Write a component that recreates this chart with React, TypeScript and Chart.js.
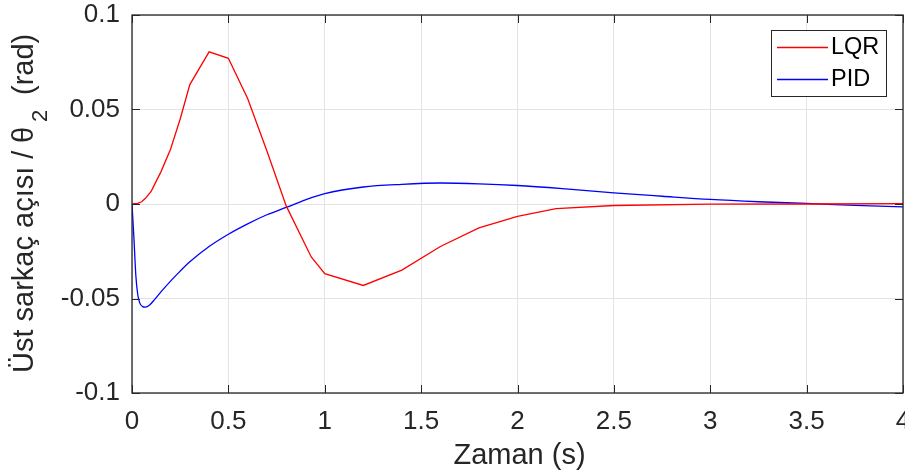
import React, { useEffect, useRef } from "react";
import { Chart, registerables } from "chart.js";

Chart.register(...registerables);

const lqrTime = [0, 0.03, 0.05, 0.07, 0.1, 0.15, 0.2, 0.25, 0.3, 0.4, 0.5, 0.6, 0.7, 0.8, 0.93, 1.0, 1.2, 1.4, 1.6, 1.8, 2.0, 2.2, 2.5, 3.0, 3.5, 4.0];
const lqrValues = [0, 0.0003, 0.0012, 0.003, 0.0068, 0.017, 0.029, 0.045, 0.0632, 0.0805, 0.0771, 0.0558, 0.028, -0.001, -0.028, -0.0369, -0.0431, -0.035, -0.0225, -0.0126, -0.0065, -0.0025, -0.0008, -0.0001, 0, 0.0002];

const pidTime = [0, 0.01, 0.02, 0.03, 0.04, 0.055, 0.07, 0.09, 0.12, 0.15, 0.2, 0.25, 0.3, 0.4, 0.5, 0.6, 0.7, 0.8, 0.9, 1.0, 1.2, 1.4, 1.6, 1.8, 2.0, 2.25, 2.5, 2.75, 3.0, 3.25, 3.5, 3.75, 4.0];
const pidValues = [0, -0.018, -0.038, -0.048, -0.0523, -0.0543, -0.0546, -0.0536, -0.0502, -0.0465, -0.0408, -0.0355, -0.0306, -0.0225, -0.016, -0.0105, -0.0057, -0.0018, 0.0022, 0.0055, 0.009, 0.0104, 0.0111, 0.0107, 0.0098, 0.008, 0.0059, 0.0041, 0.0024, 0.0012, 0.0003, -0.0007, -0.0015];

const seriesNames = ["LQR", "PID"];
const seriesColors = ["#ff0000", "#0000ff"];
const xTitle = "Zaman (s)";
const yTitleParts = ["Üst sarkaç açısı /", "θ", "2", "(rad)"];

const FONT = "'Liberation Sans', Arial, sans-serif";
const AXIS_COLOR = "#262626";

const decorPlugin = {
  id: "decor",
  afterDraw(chart: any) {
    const ctx = chart.ctx;
    const a = chart.chartArea;
    const xs = chart.scales.x;
    const ys = chart.scales.y;
    ctx.save();
    ctx.strokeStyle = AXIS_COLOR;
    ctx.lineWidth = 1.3;
    ctx.strokeRect(a.left, a.top, a.right - a.left, a.bottom - a.top);
    const tl = 8;
    ctx.lineWidth = 1;
    ctx.beginPath();
    xs.ticks.forEach((t: any) => {
      const px = Math.round(xs.getPixelForValue(t.value)) + 0.5;
      ctx.moveTo(px, a.bottom);
      ctx.lineTo(px, a.bottom - tl);
      ctx.moveTo(px, a.top);
      ctx.lineTo(px, a.top + tl);
    });
    ys.ticks.forEach((t: any) => {
      const py = Math.round(ys.getPixelForValue(t.value)) + 0.5;
      ctx.moveTo(a.left, py);
      ctx.lineTo(a.left + tl, py);
      ctx.moveTo(a.right, py);
      ctx.lineTo(a.right - tl, py);
    });
    ctx.stroke();

    ctx.fillStyle = AXIS_COLOR;
    ctx.font = `29px ${FONT}`;
    ctx.textAlign = "center";
    ctx.textBaseline = "alphabetic";
    ctx.fillText(xTitle, (a.left + a.right) / 2 + 2, 464);

    // y title (rotated), with subscript
    const mainFont = `29px ${FONT}`;
    const subFont = `22px ${FONT}`;
    ctx.translate(33, 373);
    ctx.rotate(-Math.PI / 2);
    ctx.textAlign = "left";
    ctx.font = mainFont;
    ctx.fillText(yTitleParts[0], 0, 0);
    ctx.fillText(yTitleParts[1], 230, 0);
    ctx.font = subFont;
    ctx.fillText(yTitleParts[2], 251, 14);
    ctx.font = mainFont;
    ctx.fillText(yTitleParts[3], 278, 0);
    ctx.restore();

    ctx.save();
    const lx = 771, ly = 30, lw = 115, lh = 66;
    ctx.fillStyle = "#ffffff";
    ctx.fillRect(lx, ly, lw, lh);
    ctx.strokeStyle = AXIS_COLOR;
    ctx.lineWidth = 1;
    ctx.strokeRect(lx + 0.5, ly + 0.5, lw, lh);
    ctx.font = `23.5px ${FONT}`;
    ctx.textAlign = "left";
    ctx.textBaseline = "middle";
    const rows = [47, 79];
    seriesNames.forEach((name, i) => {
      ctx.strokeStyle = seriesColors[i];
      ctx.lineWidth = 1.3;
      ctx.beginPath();
      ctx.moveTo(777, rows[i] + 0.5);
      ctx.lineTo(828, rows[i] + 0.5);
      ctx.stroke();
      ctx.fillStyle = "#000000";
      ctx.fillText(name, 831, rows[i] + 1);
    });
    ctx.restore();
  },
};

export default function App() {
  const ref = useRef<HTMLCanvasElement | null>(null);
  useEffect(() => {
    document.body.style.margin = "0";
    const canvas = ref.current!;
    const chart = new Chart(canvas, {
      type: "line",
      data: {
        datasets: [
          {
            label: seriesNames[0],
            data: lqrTime.map((t, i) => ({ x: t, y: lqrValues[i] })),
            borderColor: seriesColors[0],
            borderWidth: 1.3,
            pointRadius: 0,
            tension: 0,
            fill: false,
          },
          {
            label: seriesNames[1],
            data: pidTime.map((t, i) => ({ x: t, y: pidValues[i] })),
            borderColor: seriesColors[1],
            borderWidth: 1.3,
            pointRadius: 0,
            cubicInterpolationMode: "monotone",
            fill: false,
          },
        ],
      },
      options: {
        responsive: false,
        animation: false,
        devicePixelRatio: 1,
        layout: { padding: { top: 15, right: 2, left: 0, bottom: 0 } },
        plugins: { legend: { display: false }, tooltip: { enabled: false }, title: { display: false } },
        scales: {
          x: {
            type: "linear",
            min: 0,
            max: 4,
            afterFit: (s: any) => { s.height = 83; s.paddingLeft = 0; s.paddingRight = 0; },
            grid: { color: "#e3e3e3", drawTicks: false, lineWidth: 1 },
            border: { display: false },
            ticks: {
              stepSize: 0.5,
              padding: 13,
              color: AXIS_COLOR,
              font: { family: FONT, size: 26 },
              maxRotation: 0,
              autoSkip: false,
              callback: (v: any) => String(Number(Number(v).toFixed(2))),
            },
          },
          y: {
            type: "linear",
            min: -0.1,
            max: 0.1,
            afterFit: (s: any) => { s.width = 132; s.paddingTop = 0; s.paddingBottom = 0; },
            grid: { color: "#e3e3e3", drawTicks: false, lineWidth: 1 },
            border: { display: false },
            ticks: {
              stepSize: 0.05,
              padding: 12,
              color: AXIS_COLOR,
              font: { family: FONT, size: 26 },
              autoSkip: false,
              callback: (v: any) => String(Number(Number(v).toFixed(2))),
            },
          },
        },
      },
      plugins: [decorPlugin],
    } as any);
    return () => chart.destroy();
  }, []);
  return (
    <div style={{ position: "absolute", left: 0, top: 0, width: 905, height: 476, background: "#fff" }}>
      <canvas ref={ref} width={905} height={476} style={{ display: "block" }} />
    </div>
  );
}
